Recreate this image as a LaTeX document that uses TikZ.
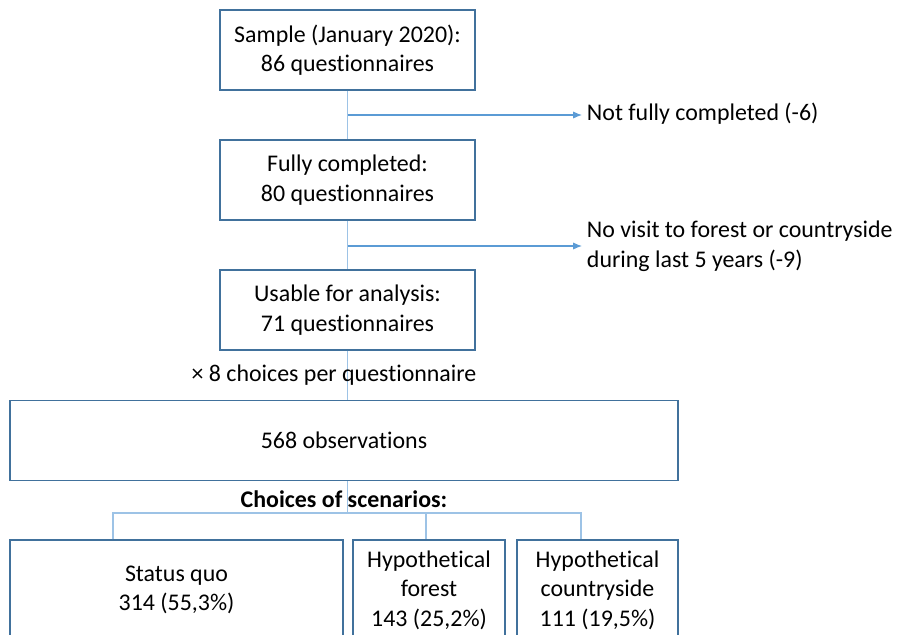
\documentclass[tikz,border=0pt]{standalone}
\usepackage{fontspec}
\setmainfont[Ligatures=NoCommon]{Carlito}
\usetikzlibrary{positioning, arrows.meta}
\definecolor{boxblue}{RGB}{65,113,156}
\definecolor{lineblue}{RGB}{91,155,213}
\definecolor{treeblue}{RGB}{157,195,230}
\tikzset{
	stage/.style={
		rectangle,
		draw=boxblue,
		line width=1pt,
		minimum width=6.375cm,
		minimum height=2cm,
		align=center,
		inner sep=0
	},
	flow/.style={
		draw=treeblue,
		line width=0.8pt
	},
	drop/.style={
		draw=lineblue,
		line width=0.8pt,
		-{Latex[length=2.2mm,width=1.8mm]}
	},
	head/.style={
		font=\fontsize{17}{21}\selectfont\bfseries
	}
}

\begin{document}
\begin{tikzpicture}[x=0.025cm, y=-0.025cm, font=\fontsize{17}{21}\selectfont]
		\useasboundingbox (0,0) rectangle (901,634);
		\clip (0,0) rectangle (901,634);
		
		\node[stage] (sample) at (347.5,50) {Sample (January 2020):\\86 questionnaires};
		\node[stage] (full) at (347.5,180) {Fully completed:\\80 questionnaires};
		\node[stage] (usable) at (347.5,310) {Usable for analysis:\\71 questionnaires};
		\node[stage, minimum width=16.7cm] (obs) at (344,440.5) {568 observations};
		
		\node[anchor=west] (partial) at (582,114) {Not fully completed (-6)};
		\node[anchor=west, align=left] (novisit) at (582,246) {No visit to forest or countryside\\during last 5 years (-9)};
		
		\coordinate (cut1) at (347.5,115);
		\coordinate (cut2) at (347.5,246);
		\draw[flow] (sample) -- (full);
		\draw[flow] (full) -- (usable);
		\draw[flow] (usable.south) -- (usable.south |- obs.north);
		\draw[drop] (cut1) -- (cut1 -| partial.west);
		\draw[drop] (cut2) -- (novisit.west);
		\node (times) at (334,375) {× 8 choices per questionnaire};
		
		\node[stage, minimum width=8.325cm, minimum height=2.5cm] (quo) at (176.5,590) {Status quo\\314 (55,3\%)};
		\node[stage, minimum width=3.8cm, minimum height=2.5cm] (forest) at (429,590) {Hypothetical\\forest\\143 (25,2\%)};
		\node[stage, minimum width=4.025cm, minimum height=2.5cm] (country) at (597.5,590) {Hypothetical\\countryside\\111 (19,5\%)};
		
		\coordinate (split) at (347.5,513);
		\coordinate (tq) at (113,513);
		\coordinate (tf) at (426,513);
		\coordinate (tc) at (581,513);
		\draw[flow] (obs.south -| split) -- (split);
		\draw[flow] (quo.north -| tq) -- (tq) -- (tc) -- (country.north -| tc);
		\draw[flow] (tf) -- (forest.north -| tf);
		\node[head] (choices) at (344,499) {Choices of scenarios:};
\end{tikzpicture}
\end{document}
